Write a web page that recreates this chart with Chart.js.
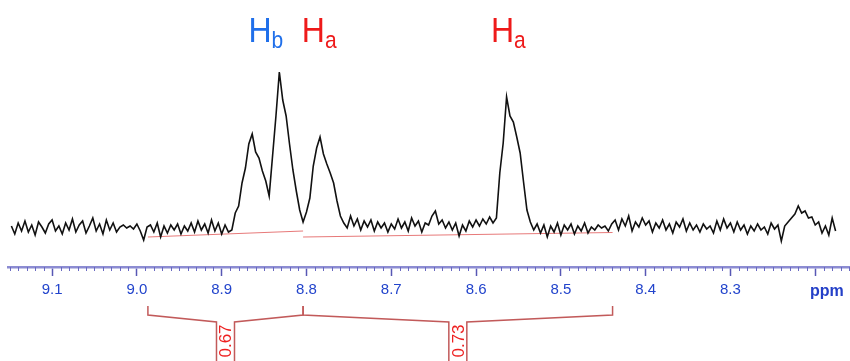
<!DOCTYPE html>
<html>
<head>
<meta charset="utf-8">
<script src="https://cdn.jsdelivr.net/npm/chart.js@4.4.1/dist/chart.umd.min.js"></script>
<style>
  html, body { margin: 0; padding: 0; background: #fff; }
  #wrap { width: 850px; height: 361px; }
</style>
</head>
<body>
<div id="wrap"><canvas id="nmrChart"></canvas></div>
<script>
//spectrum, one reading every 0.004 ppm starting at 9.148 ppm
const ppmStart = 9.148;
const ppmStep = 0.004;
const intensity = [
    2, -6, 5, -3, 7, -4, 3, -7, 6, 1,
    -5, 4, 8, -3, 2, -6, 5, -2, 9, -4,
    3, 7, -5, 2, 10, -3, 4, -6, 8, -2,
    5, -4, 1, 3, 0, 2, -1, 4, -3, -12,
    1, 3, -4, 5, -9, 2, -5, 3, -2, 4,
    -6, 2, -3, 5, -4, 7, -2, 4, -5, 8,
    -3, 5, -6, 3, -4, -2, 15, 22, 45, 60,
    84, 94, 76, 70, 57, 47, 32, 72, 112, 156,
    128, 112, 84, 58, 37, 18, 6, 16, 30, 62,
    80, 91, 74, 64, 55, 45, 27, 12, 5, 0,
    12, 2, 9, -2, 7, 1, 8, -3, 6, 0,
    5, -4, 4, -1, 9, 0, 6, -3, 10, 2,
    7, -4, 5, 3, 12, 17, 4, 8, 0, 6,
    -2, 5, -8, 3, -3, 7, 1, 8, 2, 9,
    4, 11, 5, 10, 55, 85, 131, 112, 106, 91,
    75, 46, 18, 6, -2, 4, -5, 3, -9, 2,
    -4, 5, -7, 3, -2, 4, -6, 2, -3, 5,
    -5, 1, -2, 3, 0, 2, -3, 4, 8, -2,
    9, 2, 12, -3, 6, 1, 10, 3, 7, -4,
    5, 0, 8, -2, 4, -5, 6, 1, 9, -3,
    5, -2, 3, -4, 4, -1, 2, -5, 7, -2,
    9, 0, 5, -4, 6, -2, 3, -6, 2, -3,
    4, -2, 1, -6, 5, -1, 3, -13, 2, 6,
    10, 14, 22, 15, 17, 10, 11, 3, 6, -5,
    2, -7, 10, -3
];

//integrals
const integralFrom = [8.987, 8.804];
const integralTo = [8.804, 8.439];
const integralValues = ['0.67', '0.73'];
const integralBaseStart = [-9, -9];
const integralBaseEnd = [-3, -4.5];

//peak labels
const peakLabelPpm = [8.848, 8.785, 8.562];
const peakLabelSub = ['b', 'a', 'a'];
const peakLabelColor = ['#1f6fea', '#ee1a1a', '#ee1a1a'];

//axis
const ppmMin = 8.159;
const ppmMax = 9.152;

let spectrum = intensity.map((v, i) => ({x: ppmStart - i * ppmStep, y: v}));

let datasets = [{
    data: spectrum,
    borderColor: '#111111',
    borderWidth: 1.6,
    pointRadius: 0,
    tension: 0
}];

integralFrom.forEach((from, i) => {
    datasets.push({
        data: [{x: from, y: integralBaseStart[i]}, {x: integralTo[i], y: integralBaseEnd[i]}],
        borderColor: '#e77a7a',
        borderWidth: 1.2,
        pointRadius: 0
    });
});

const font = "'Liberation Sans', Arial, sans-serif";

//labels, minor ticks and integral brackets
const extras = {
    id: 'extras',
    afterDraw(chart) {
        const ctx = chart.ctx;
        const xs = chart.scales.x;
        const axisY = chart.chartArea.bottom;
        ctx.save();

        //minor ticks
        ctx.strokeStyle = '#6a6ac2';
        ctx.lineWidth = 1;
        for (let k = 816; k <= 915; k++) {
            if (k % 10 === 0) continue;
            const x = Math.round(xs.getPixelForValue(k / 100)) + 0.5;
            ctx.beginPath();
            ctx.moveTo(x, axisY);
            ctx.lineTo(x, axisY + 4);
            ctx.stroke();
        }

        //ppm
        ctx.fillStyle = '#2440c8';
        ctx.font = 'bold 16px ' + font;
        ctx.textAlign = 'left';
        ctx.textBaseline = 'alphabetic';
        ctx.fillText('ppm', 810, axisY + 29);

        //integral brackets
        ctx.strokeStyle = '#c25a5a';
        ctx.lineWidth = 1.5;
        integralFrom.forEach((from, i) => {
            const xa = xs.getPixelForValue(from);
            const xb = xs.getPixelForValue(integralTo[i]);
            const xm = xs.getPixelForValue((from + integralTo[i]) / 2);
            ctx.beginPath();
            ctx.moveTo(xa, axisY + 39);
            ctx.lineTo(xa, axisY + 48);
            ctx.lineTo(xm - 9, axisY + 55);
            ctx.lineTo(xm - 9, chart.height);
            ctx.moveTo(xm + 9, chart.height);
            ctx.lineTo(xm + 9, axisY + 55);
            ctx.lineTo(xb, axisY + 48);
            ctx.lineTo(xb, axisY + 39);
            ctx.stroke();

            ctx.save();
            ctx.translate(xm, axisY + 74);
            ctx.rotate(-Math.PI / 2);
            ctx.fillStyle = '#ee2020';
            ctx.font = '17px ' + font;
            ctx.textAlign = 'center';
            ctx.textBaseline = 'middle';
            ctx.fillText(integralValues[i], 0, 1);
            ctx.restore();
        });

        //peak labels
        peakLabelPpm.forEach((ppm, i) => {
            const cx = xs.getPixelForValue(ppm);
            ctx.fillStyle = peakLabelColor[i];
            ctx.font = '32px ' + font;
            const wH = ctx.measureText('H').width;
            ctx.font = '21px ' + font;
            const wS = ctx.measureText(peakLabelSub[i]).width;
            const left = cx - (wH + wS) / 2;
            ctx.save();
            ctx.translate(0, 42);
            ctx.scale(1, 1.1);
            ctx.textAlign = 'left';
            ctx.textBaseline = 'alphabetic';
            ctx.font = '32px ' + font;
            ctx.fillText('H', left, 0);
            ctx.font = '21px ' + font;
            ctx.fillText(peakLabelSub[i], left + wH, 5.5);
            ctx.restore();
        });

        ctx.restore();
    }
};

const ctx = document.getElementById('nmrChart').getContext('2d');
const nmrChart = new Chart(ctx, {
    type: 'line',
    data: {datasets: datasets},
    options: {
        responsive: true,
        maintainAspectRatio: false,
        animation: false,
        layout: {padding: {left: 8, right: 0, top: 0, bottom: 0}},
        plugins: {legend: {display: false}, tooltip: {enabled: false}},
        scales: {
            x: {
                type: 'linear',
                reverse: true,
                min: ppmMin,
                max: ppmMax,
                afterFit: scale => { scale.height = 94; },
                border: {color: '#8c8cd2', width: 2.5},
                grid: {drawOnChartArea: false, tickLength: 9, tickColor: '#5757b4', tickWidth: 1.5},
                ticks: {
                    stepSize: 0.1,
                    includeBounds: false,
                    maxRotation: 0,
                    autoSkip: false,
                    padding: 5,
                    color: '#2244cc',
                    font: {family: font, size: 15},
                    callback: v => Math.abs(v - 8.2) < 1e-6 ? '' : v.toFixed(1)
                }
            },
            y: {display: false, min: -39, max: 228}
        }
    },
    plugins: [extras]
});
</script>
</body>
</html>
